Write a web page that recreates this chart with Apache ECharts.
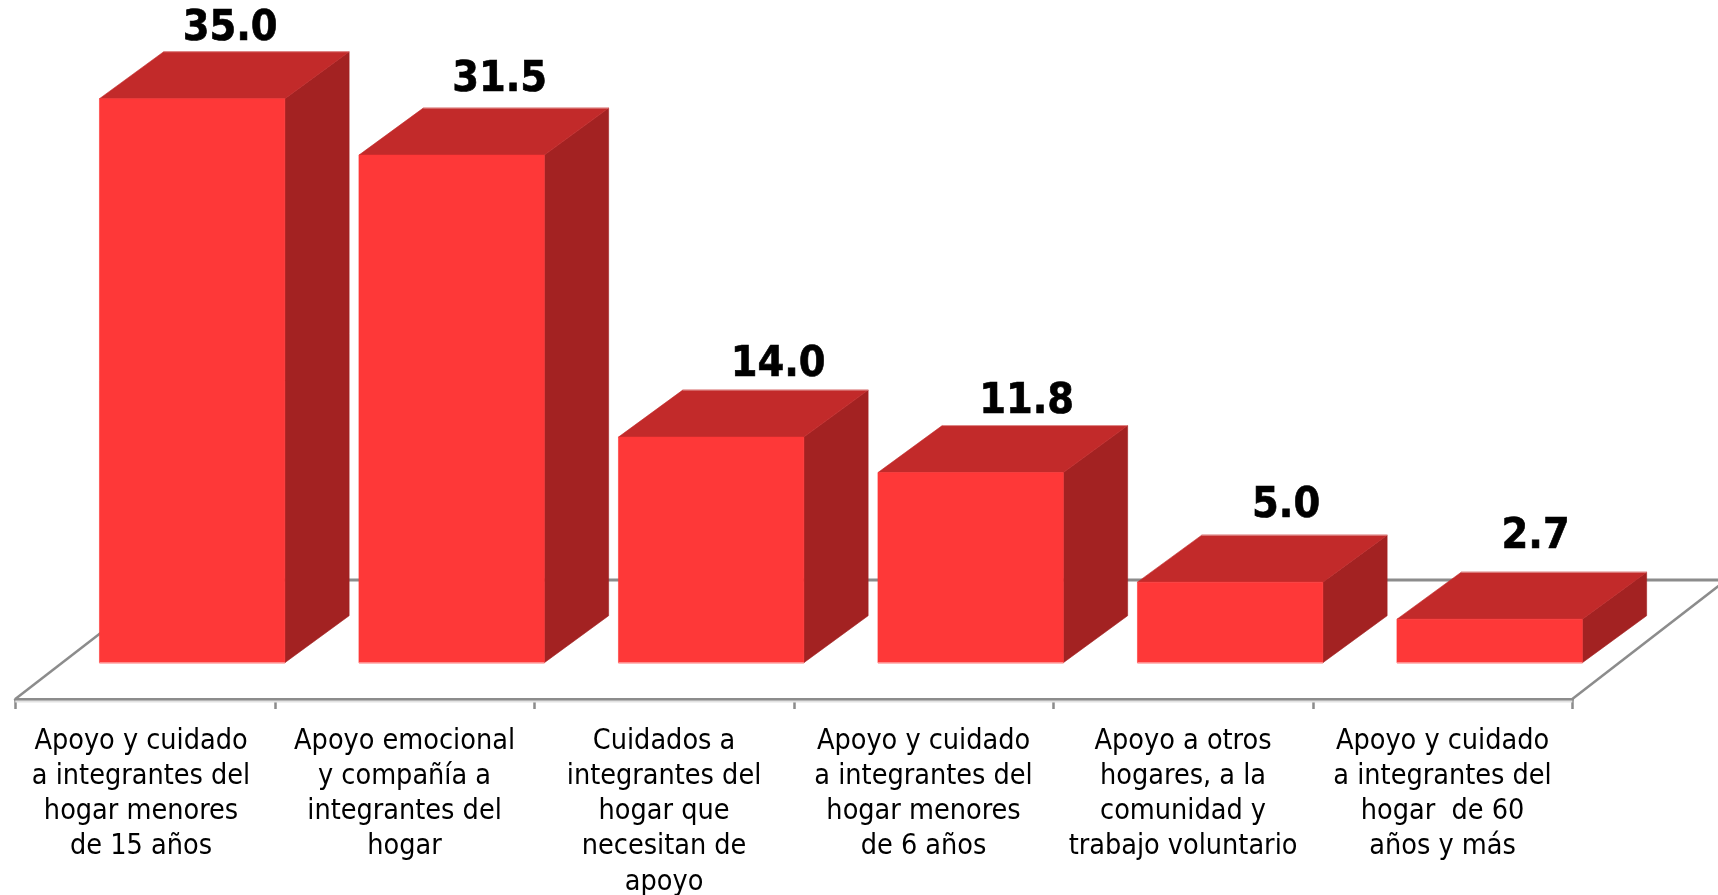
<!DOCTYPE html>
<html>
<head>
<meta charset="utf-8">
<style>html,body{margin:0;padding:0;background:#fff}#c{width:1718px;height:895px}</style>
<script src="https://cdn.jsdelivr.net/npm/echarts@6/dist/echarts.min.js"></script>
</head>
<body>
<div id="c"></div>
<script>
const categories = [
  'Apoyo y cuidado\na integrantes del\nhogar menores\nde 15 años',
  'Apoyo emocional\ny compañía a\nintegrantes del\nhogar',
  'Cuidados a\nintegrantes del\nhogar que\nnecesitan de\napoyo',
  'Apoyo y cuidado\na integrantes del\nhogar menores\nde 6 años',
  'Apoyo a otros\nhogares, a la\ncomunidad y\ntrabajo voluntario',
  'Apoyo y cuidado\na integrantes del\nhogar  de 60\naños y más'
];
const values = [35.0, 31.5, 14.0, 11.8, 5.0, 2.7];
// label placement relative to each bar's back edge
const labelDx = [38, 48, 67, 56, 56, 46];
const labelDy = [23, 28, 25, 24, 29, 35];

const FRONT = '#FE3838', TOP = '#C22A2A', SIDE = '#A32222', RULE = '#8C8C8C';
const AXIS_DROP = 36.3;

function renderFloor(params, api) {
  const origin = api.coord([0, 0]);
  const band = api.size([1, 0])[0];
  const x0 = origin[0] - band / 2, y0 = origin[1] + AXIS_DROP;
  const x1 = x0 + band * categories.length;
  const dx = band * 0.593, dy = dx * 0.773;
  const ln = (a, b, c, d, w, col) => ({ type: 'line', shape: { x1: a, y1: b, x2: c, y2: d }, style: { stroke: col, lineWidth: w } });
  return { type: 'group', children: [
    ln(x0 + dx, y0 - dy, 1800, y0 - dy, 3, RULE),
    ln(x0, y0, x0 + dx, y0 - dy, 2.5, RULE),
    ln(x1, y0, x1 + dx, y0 - dy, 2.5, RULE),
    ln(x0, y0 + 2.5, x1, y0 + 2.5, 2, '#E2E2E2')
  ] };
}

function renderBar(params, api) {
  const i = api.value(0), v = api.value(1);
  const top = api.coord([i, v]), base = api.coord([i, 0]);
  const band = api.size([1, 0])[0];
  const w = band * 0.7145, shift = band * 0.1815;
  const dx = band * 0.2477, dy = dx * 0.731;
  const l = top[0] + shift - w / 2, r = l + w, t = top[1], b = base[1];
  const poly = (pts, fill) => ({ type: 'polygon', shape: { points: pts }, style: { fill, stroke: fill, lineWidth: 0.6 } });
  return { type: 'group', children: [
    poly([[r, t], [r + dx, t - dy], [r + dx, b - dy], [r, b]], SIDE),
    poly([[l, t], [l + dx, t - dy], [r + dx, t - dy], [r, t]], TOP),
    { type: 'rect', shape: { x: l, y: t, width: w, height: b - t }, style: { fill: FRONT, stroke: FRONT, lineWidth: 0.6 } },
    { type: 'line', shape: { x1: l, y1: b, x2: r, y2: b }, style: { stroke: '#FF8C8C', lineWidth: 1.5 } },
    { type: 'line', shape: { x1: l + dx, y1: t - dy, x2: r + dx, y2: t - dy }, style: { stroke: '#E08A8A', lineWidth: 1 } },
    { type: 'text',
      x: top[0] + shift + labelDx[i], y: t - dy - labelDy[i], scaleY: 1.12,
      style: {
        x: 0, y: 0, text: v.toFixed(1), align: 'center', verticalAlign: 'middle',
        font: 'bold 38.5px "DejaVu Sans"', fill: '#000', stroke: '#000', lineWidth: 0.6 } }
  ] };
}

const chart = echarts.init(document.getElementById('c'), null, { renderer: 'canvas' });
chart.setOption({
  animation: false,
  backgroundColor: '#fff',
  grid: { left: 15.3, right: 145.7, top: 98.7, bottom: 232.3, containLabel: false, outerBoundsMode: 'none' },
  xAxis: {
    type: 'category',
    data: categories.map((c, i) => i === 0 ? { value: c, textStyle: { padding: [0, 8, 0, 0] } } : c),
    position: 'bottom',
    offset: AXIS_DROP,
    axisLine: { onZero: false, lineStyle: { color: RULE, width: 3 } },
    axisTick: { show: true, length: 10, alignWithLabel: false, lineStyle: { color: RULE, width: 2.5 } },
    axisLabel: {
      interval: 0, margin: 24.5, color: '#000', align: 'center', hideOverlap: false,
      fontFamily: '"DejaVu Sans Condensed","DejaVu Sans"', fontSize: 28.5, lineHeight: 35.3
    }
  },
  yAxis: { type: 'value', min: 0, max: 35, show: false },
  series: [
    { type: 'custom', silent: true, z: 1, renderItem: renderFloor, data: [[0, 0]], encode: { x: 0, y: 1 } },
    { type: 'custom', silent: true, z: 2, renderItem: renderBar, data: values.map((v, i) => [i, v]), encode: { x: 0, y: 1 } }
  ]
});
</script>
</body>
</html>
